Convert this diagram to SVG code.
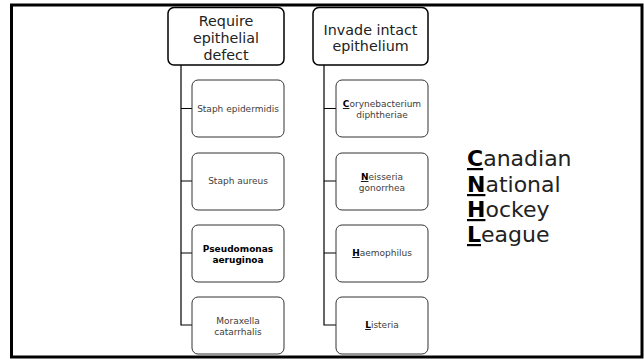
<svg xmlns="http://www.w3.org/2000/svg" width="644" height="360" viewBox="0 0 644 360">
<style>
.hdr{fill:#fff;stroke:#000;stroke-width:1.5}
.child{fill:#fff;stroke:#333;stroke-width:1}
.ht{font-family:"DejaVu Sans",sans-serif;font-size:14.3px;fill:#222;text-anchor:middle}
.ct{font-family:"DejaVu Sans",sans-serif;font-size:9px;fill:#404040;text-anchor:middle}
.cb{font-weight:bold;fill:#000}
.ul{font-weight:bold;fill:#000;text-decoration:underline}
.big{font-family:"DejaVu Sans",sans-serif;font-size:22px;fill:#222}
.conn{fill:none;stroke:#000;stroke-width:1.2}
</style>
<rect x="0" y="0" width="644" height="360" fill="#fff"/>
<rect x="11.5" y="5" width="630.5" height="352" fill="none" stroke="#000" stroke-width="3"/>
<g id="connectors">
<path class="conn" d="M181,65 V325 H192 M181,108.5 H192 M181,181 H192 M181,253 H192"/>
<path class="conn" d="M324,65 V325 H336 M324,108.5 H336 M324,181 H336 M324,253 H336"/>
</g>
<g id="h1"><rect class="hdr" x="168" y="7.5" width="116" height="57.5" rx="6"/>
<text class="ht" x="226" y="26">Require</text><text class="ht" x="226" y="43">epithelial</text><text class="ht" x="226" y="60">defect</text></g>
<g id="h2"><rect class="hdr" x="313" y="7.5" width="115" height="57.5" rx="6"/>
<text class="ht" x="370.5" y="35">Invade intact</text><text class="ht" x="370.5" y="51">epithelium</text></g>
<g id="c1"><rect class="child" x="192" y="80" width="92" height="57" rx="6"/><text class="ct" x="238" y="111.5">Staph epidermidis</text></g>
<g id="c2"><rect class="child" x="192" y="153" width="92" height="57" rx="6"/><text class="ct" x="238" y="184">Staph aureus</text></g>
<g id="c3"><rect class="child" x="192" y="225" width="92" height="57" rx="6"/><text class="ct cb" x="238" y="252">Pseudomonas</text><text class="ct cb" x="238" y="262.5">aeruginoa</text></g>
<g id="c4"><rect class="child" x="192" y="297" width="92" height="57" rx="6"/><text class="ct" x="238" y="324">Moraxella</text><text class="ct" x="238" y="334.5">catarrhalis</text></g>
<g id="d1"><rect class="child" x="336" y="80" width="92" height="57" rx="6"/><text class="ct" x="382" y="107"><tspan class="ul">C</tspan>orynebacterium</text><text class="ct" x="382" y="117.5">diphtheriae</text></g>
<g id="d2"><rect class="child" x="336" y="153" width="92" height="57" rx="6"/><text class="ct" x="382" y="180"><tspan class="ul">N</tspan>eisseria</text><text class="ct" x="382" y="190.5">gonorrhea</text></g>
<g id="d3"><rect class="child" x="336" y="225" width="92" height="57" rx="6"/><text class="ct" x="382" y="256"><tspan class="ul">H</tspan>aemophilus</text></g>
<g id="d4"><rect class="child" x="336" y="297" width="92" height="57" rx="6"/><text class="ct" x="382" y="328"><tspan class="ul">L</tspan>isteria</text></g>
<g id="acronym">
<text class="big" x="467" y="166"><tspan class="ul">C</tspan>anadian</text>
<text class="big" x="467" y="192"><tspan class="ul">N</tspan>ational</text>
<text class="big" x="467" y="217"><tspan class="ul">H</tspan>ockey</text>
<text class="big" x="467" y="242"><tspan class="ul">L</tspan>eague</text>
</g>
</svg>
